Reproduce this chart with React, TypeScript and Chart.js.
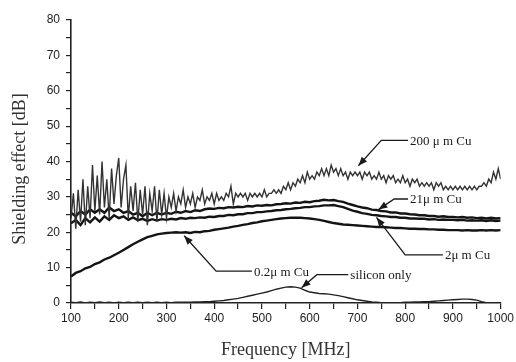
import React, { useEffect, useRef } from "react";
import { Chart, registerables } from "chart.js";

Chart.register(...registerables);

// Sampling grid of the noisy 200 µm trace (MHz)
const freqFine: number[] = [
  100, 105, 110, 115, 120, 125, 130, 135, 140, 145, 150, 155, 160, 165, 170, 175, 180, 185, 190, 195,
  200, 205, 210, 215, 220, 225, 230, 235, 240, 245, 250, 255, 260, 265, 270, 275, 280, 285, 290, 295,
  300, 305, 310, 315, 320, 325, 330, 335, 340, 345, 350, 355, 360, 365, 370, 375, 380, 385, 390, 395,
  400, 405, 410, 415, 420, 425, 430, 435, 440, 445, 450, 455, 460, 465, 470, 475, 480, 485, 490, 495,
  500, 505, 510, 515, 520, 525, 530, 535, 540, 545, 550, 555, 560, 565, 570, 575, 580, 585, 590, 595,
  600, 605, 610, 615, 620, 625, 630, 635, 640, 645, 650, 655, 660, 665, 670, 675, 680, 685, 690, 695,
  700, 705, 710, 715, 720, 725, 730, 735, 740, 745, 750, 755, 760, 765, 770, 775, 780, 785, 790, 795,
  800, 805, 810, 815, 820, 825, 830, 835, 840, 845, 850, 855, 860, 865, 870, 875, 880, 885, 890, 895,
  900, 905, 910, 915, 920, 925, 930, 935, 940, 945, 950, 955, 960, 965, 970, 975, 980, 985, 990, 995,
  1000,
];

// Sampling grid of the other traces (MHz)
const freqCoarse: number[] = [
  100, 110, 120, 130, 140, 150, 160, 170, 180, 190,
  200, 210, 220, 230, 240, 250, 260, 270, 280, 290,
  300, 310, 320, 330, 340, 350, 360, 370, 380, 390,
  400, 410, 420, 430, 440, 450, 460, 470, 480, 490,
  500, 510, 520, 530, 540, 550, 560, 570, 580, 590,
  600, 610, 620, 630, 640, 650, 660, 670, 680, 690,
  700, 710, 720, 730, 740, 750, 760, 770, 780, 790,
  800, 810, 820, 830, 840, 850, 860, 870, 880, 890,
  900, 910, 920, 930, 940, 950, 960, 970, 980, 990,
  1000,
];

const cu200: number[] = [
  24, 31, 21, 32, 23, 35, 22, 33, 24, 39, 26, 36, 25, 40, 27, 35, 24, 38, 28, 36,
  41, 27, 35, 39, 24, 33, 26, 34, 23, 32, 25, 33, 22, 31, 26, 33, 23, 32, 25, 31,
  24, 30, 27, 31, 26, 30, 28, 32, 27, 30, 28, 31, 27, 30, 29, 32, 28, 30, 29, 31,
  28, 31, 29, 30, 29, 31, 30, 33, 28, 31, 30, 31, 30, 31, 29, 31, 30, 31, 30, 31,
  30, 32, 30, 31, 31, 32, 31, 32, 31, 33, 32, 34, 32, 34, 33, 35, 34, 36, 34, 37,
  35, 36, 35, 37, 36, 38, 36, 38, 36, 39, 37, 38, 36, 38, 36, 37, 35, 37, 36, 37,
  36, 37, 35, 37, 36, 37, 35, 36, 35, 37, 35, 36, 34, 36, 35, 36, 34, 35, 34, 36,
  34, 35, 33, 35, 34, 35, 33, 34, 33, 34, 33, 34, 32, 34, 33, 34, 32, 33, 32, 33,
  32, 33, 32, 33, 32, 33, 32, 33, 32, 33, 32, 33, 33, 34, 33, 35, 34, 37, 35, 38,
  35,
];

const cu21: number[] = [
  25.5, 24.5, 26, 25, 26.5, 25.5, 26.5, 25.5, 27, 26,
  26.5, 25.5, 26, 25, 25.5, 24.5, 25.5, 24.8, 25.5, 25,
  25.5, 25.2, 25.8, 25.5, 26, 25.7, 26.2, 26, 26.5, 26.7,
  26.6, 26.9, 26.8, 27.1, 27, 27.2, 27.1, 27.4, 27.3, 27.6,
  27.5, 27.7, 27.6, 27.9, 28, 28.2, 28.1, 28.4, 28.3, 28.6,
  28.5, 28.8, 28.9, 29.2, 29, 29.1, 28.8, 28.6, 28.1, 27.7,
  27.3, 27, 26.8, 26.4, 26.3, 26, 25.9, 25.6, 25.6, 25.3,
  25.3, 25.1, 25, 24.8, 24.8, 24.6, 24.6, 24.4, 24.5, 24.3,
  24.3, 24.2, 24.3, 24.1, 24.2, 24, 24.1, 23.9, 24.1, 23.9,
  24,
];

const cu2: number[] = [
  22.5, 23.5, 22, 24, 22.8, 24.2, 23, 24.5, 23.5, 24.8,
  24, 24.5, 23.5, 24.2, 23.4, 23.8, 23.2, 23.7, 23.3, 23.7,
  23.5, 23.8, 23.6, 24, 23.8, 24.1, 24, 24.2, 24.1, 24.4,
  24.3, 24.6, 24.6, 24.9, 24.8, 25.1, 25.1, 25.4, 25.4, 25.7,
  25.7, 25.9, 26, 26.2, 26.3, 26.5, 26.6, 26.8, 26.9, 27.1,
  27.1, 27.3, 27.4, 27.6, 27.6, 27.7, 27.4, 27.1, 26.6, 26.1,
  25.8, 25.4, 25.2, 24.9, 24.8, 24.6, 24.5, 24.3, 24.3, 24.1,
  24.1, 23.9, 23.9, 23.8, 23.8, 23.6, 23.7, 23.5, 23.6, 23.5,
  23.5, 23.4, 23.5, 23.3, 23.4, 23.3, 23.4, 23.2, 23.4, 23.2,
  23.3,
];

const cu02: number[] = [
  7.5, 8.5, 9, 9.8, 10.2, 11, 11.5, 12.3, 12.8, 13.5,
  14.2, 15, 15.8, 16.6, 17.3, 18, 18.6, 19, 19.4, 19.6,
  19.8, 19.9, 20, 19.9, 20, 19.8, 20.1, 20, 20.3, 20.4,
  20.7, 20.9, 21.1, 21.3, 21.6, 21.8, 22.1, 22.3, 22.6, 22.8,
  23.1, 23.3, 23.5, 23.7, 23.9, 24, 24.1, 24.1, 24.1, 24,
  23.9, 23.7, 23.5, 23.2, 22.9, 22.6, 22.4, 22.2, 22.1, 22,
  21.9, 21.8, 21.7, 21.6, 21.5, 21.5, 21.4, 21.3, 21.2, 21.2,
  21.1, 21, 21, 20.9, 20.9, 20.8, 20.8, 20.7, 20.7, 20.6,
  20.6, 20.6, 20.5, 20.6, 20.5, 20.5, 20.6, 20.5, 20.6, 20.5,
  20.6,
];

const silicon: number[] = [
  0.2, 0.1, 0.3, 0, 0.2, 0.1, 0.3, 0.1, 0.2, 0,
  0.2, 0.1, 0.2, 0.1, 0.2, 0.1, 0.2, 0.1, 0.2, 0.1,
  0.2, 0.1, 0.2, 0.2, 0.2, 0.2, 0.3, 0.3, 0.4, 0.4,
  0.5, 0.6, 0.7, 0.9, 1.1, 1.3, 1.6, 1.9, 2.2, 2.5,
  2.8, 3.1, 3.5, 3.9, 4.2, 4.5, 4.6, 4.5, 4.2, 3.6,
  3.1, 2.9, 2.7, 2.6, 2.5, 2.3, 2.1, 1.8, 1.5, 1.2,
  0.9, 0.7, 0.5, 0.3, 0.2, 0.1, 0.1, 0.1, 0.1, 0.1,
  0.2, 0.2, 0.3, 0.3, 0.4, 0.4, 0.5, 0.6, 0.7, 0.8,
  0.9, 1.0, 1.1, 1.1, 1.0, 0.8, 0.4, 0.1, 0, 0,
  0,
];

const seriesNames = ["200 μ m Cu", "21μ m Cu", "2μ m Cu", "0.2μ m Cu", "silicon only"];

const xTickLabels = ["100", "200", "300", "400", "500", "600", "700", "800", "900", "1000"];
const yTickLabels = ["0", "10", "20", "30", "40", "50", "60", "70", "80"];

// Callout annotations, in data units: arrow tip, elbow, leader end, label
type Callout = { text: string; tip: [number, number]; elbow: [number, number]; end: [number, number] };
const callouts: Callout[] = [
  { text: seriesNames[0], tip: [702, 38.8], elbow: [750, 46], end: [806, 46] },
  { text: seriesNames[1], tip: [744, 26.4], elbow: [777, 29.4], end: [806, 29.4] },
  { text: seriesNames[2], tip: [740, 24.2], elbow: [800, 13.6], end: [879, 13.6] },
  { text: seriesNames[3], tip: [337, 19.0], elbow: [404, 9.0], end: [479, 9.0] },
  { text: seriesNames[4], tip: [583, 4.3], elbow: [615, 8.0], end: [681, 8.0] },
];

const zip = (xs: number[], ys: number[]) => ys.map((y, i) => ({ x: xs[i], y }));

const calloutPlugin = {
  id: "callouts",
  afterDatasetsDraw(chart: any) {
    const { ctx, scales } = chart;
    const sx = scales.x;
    const sy = scales.y;
    ctx.save();
    ctx.strokeStyle = "#1a1a1a";
    ctx.fillStyle = "#1a1a1a";
    ctx.lineWidth = 1.3;
    for (const c of callouts) {
      const tx = sx.getPixelForValue(c.tip[0]);
      const ty = sy.getPixelForValue(c.tip[1]);
      const ex = sx.getPixelForValue(c.elbow[0]);
      const ey = sy.getPixelForValue(c.elbow[1]);
      const nx = sx.getPixelForValue(c.end[0]);
      const ny = sy.getPixelForValue(c.end[1]);
      ctx.beginPath();
      ctx.moveTo(nx, ny);
      ctx.lineTo(ex, ey);
      ctx.lineTo(tx, ty);
      ctx.stroke();
      // arrow head
      const ang = Math.atan2(ty - ey, tx - ex);
      const len = 9;
      const half = 3.5;
      const bx = tx - len * Math.cos(ang);
      const by = ty - len * Math.sin(ang);
      ctx.beginPath();
      ctx.moveTo(tx, ty);
      ctx.lineTo(bx + half * Math.sin(ang), by - half * Math.cos(ang));
      ctx.lineTo(bx - half * Math.sin(ang), by + half * Math.cos(ang));
      ctx.closePath();
      ctx.fill();
      // label
      ctx.font = '13px "Liberation Serif", "DejaVu Serif", serif';
      ctx.textAlign = "left";
      ctx.textBaseline = "middle";
      ctx.fillText(c.text, nx + 2, ny + 1);
    }
    // Y axis title
    ctx.font = '18px "Liberation Serif", serif';
    ctx.fillStyle = "#333";
    ctx.textAlign = "center";
    ctx.textBaseline = "middle";
    ctx.translate(20, 169);
    ctx.rotate(-Math.PI / 2);
    ctx.fillText("Shielding effect [dB]", 0, 0);
    ctx.restore();
  },
};

export default function App() {
  const canvasRef = useRef<HTMLCanvasElement | null>(null);

  useEffect(() => {
    if (!canvasRef.current) return;
    const axisColor = "#222";
    const chart = new Chart(canvasRef.current, {
      type: "line",
      data: {
        datasets: [
          { label: seriesNames[0], data: zip(freqFine, cu200), borderColor: "#333", borderWidth: 1.4 },
          { label: seriesNames[1], data: zip(freqCoarse, cu21), borderColor: "#141414", borderWidth: 2.4 },
          { label: seriesNames[2], data: zip(freqCoarse, cu2), borderColor: "#141414", borderWidth: 2.4 },
          { label: seriesNames[3], data: zip(freqCoarse, cu02), borderColor: "#141414", borderWidth: 2.4 },
          { label: seriesNames[4], data: zip(freqCoarse, silicon), borderColor: "#222", borderWidth: 1.4 },
        ],
      },
      options: {
        animation: false,
        responsive: false,
        devicePixelRatio: 1,
        elements: { point: { radius: 0 }, line: { tension: 0 } },
        layout: { padding: { top: 20, right: 13, left: 0, bottom: 0 } },
        plugins: { legend: { display: false }, tooltip: { enabled: false } },
        scales: {
          x: {
            type: "linear",
            min: 100,
            max: 1000,
            afterFit: (s: any) => {
              s.height = 59;
            },
            ticks: {
              stepSize: 50,
              autoSkip: false,
              maxRotation: 0,
              padding: 2,
              color: "#222",
              font: { family: '"Liberation Sans", Arial, sans-serif', size: 12 },
              callback: (v: any) => {
                const s = String(v);
                return xTickLabels.includes(s) ? s : "";
              },
            },
            grid: { drawOnChartArea: false, drawTicks: true, tickLength: 6, color: axisColor, lineWidth: 1.2 },
            border: { display: true, color: axisColor, width: 1.6 },
            title: {
              display: true,
              text: "Frequency [MHz]",
              color: "#333",
              font: { family: '"Liberation Serif", serif', size: 18, weight: "normal" },
              padding: { top: 0, bottom: 1 },
            },
          },
          y: {
            type: "linear",
            min: 0,
            max: 80,
            afterFit: (s: any) => {
              s.width = 71;
            },
            ticks: {
              stepSize: 5,
              autoSkip: false,
              padding: 6,
              color: "#222",
              font: { family: '"Liberation Sans", Arial, sans-serif', size: 12 },
              callback: (v: any) => {
                const s = String(v);
                return yTickLabels.includes(s) ? s : "";
              },
            },
            grid: { drawOnChartArea: false, drawTicks: true, tickLength: 5, color: axisColor, lineWidth: 1.2 },
            border: { display: true, color: axisColor, width: 1.6 },
          },
        },
      },
      plugins: [calloutPlugin],
    });
    return () => chart.destroy();
  }, []);

  return (
    <div style={{ position: "fixed", left: 0, top: 0, width: 516, height: 362, background: "#fff" }}>
      <canvas ref={canvasRef} width={516} height={362} style={{ width: 516, height: 362, display: "block" }} />
    </div>
  );
}
